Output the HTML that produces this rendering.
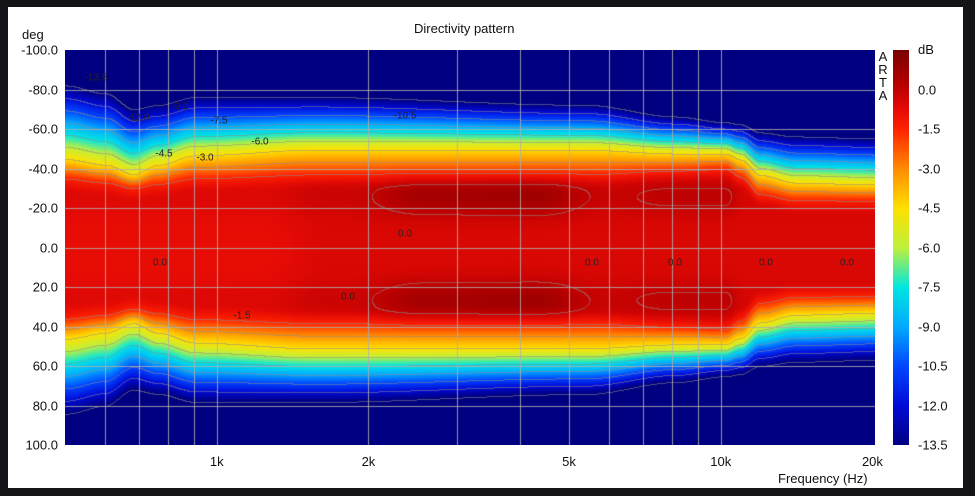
<!DOCTYPE html>
<html><head><meta charset="utf-8"><style>
html,body{margin:0;padding:0;background:#141418;width:975px;height:496px;overflow:hidden;font-family:"Liberation Sans",sans-serif}
#panel{position:absolute;left:8px;top:7px;width:955px;height:481px;background:#fff}
.t{position:absolute;font-size:13px;color:#111;white-space:nowrap}
.yl{position:absolute;right:917px;font-size:13px;color:#111;transform:translateY(-50%)}
.cl{position:absolute;left:918px;font-size:13px;color:#111;transform:translateY(-50%)}
.xl{position:absolute;top:454px;font-size:13px;color:#111;transform:translateX(-50%)}
.lab{position:absolute;font-size:10px;color:#222;transform:translate(-50%,-50%)}
canvas{position:absolute}
</style></head><body>
<div id="panel"></div>
<canvas id="c" width="810" height="395" style="left:65px;top:50px"></canvas>
<canvas id="cb" width="16" height="395" style="left:893px;top:50px"></canvas>
<div class="t" style="left:414px;top:21px">Directivity pattern</div>
<div class="t" style="left:22px;top:27px">deg</div>
<div class="t" style="left:918px;top:42px">dB</div>
<div class="t" style="left:878px;top:50px;line-height:13px;width:10px;text-align:center">A<br>R<br>T<br>A</div>
<div class="t" style="left:778px;top:471px">Frequency (Hz)</div>
<div id="labs"></div>
<script>
var L=document.getElementById('labs'),h='';
for(var i=0;i<=10;i++){var v=-100+20*i;h+='<div class="yl" style="top:'+(50+39.5*i)+'px">'+v.toFixed(1)+'</div>';}
for(var i=1;i<=10;i++){var v=1.5-1.5*i;h+='<div class="cl" style="top:'+(50+39.5*i)+'px">'+v.toFixed(1)+'</div>';}
var fx=[[1000,'1k'],[2000,'2k'],[5000,'5k'],[10000,'10k'],[20000,'20k']];
function X(f){return 65+504*Math.log10(f/500);}
fx.forEach(function(a){h+='<div class="xl" style="left:'+X(a[0])+'px">'+a[1]+'</div>';});
var cl=[[96,78,'-13.5'],[138,118,'-12.0'],[180,107,'-9.0'],[219,121,'-7.5'],[260,142,'-6.0'],[164,154,'-4.5'],[205,158,'-3.0'],[405,116,'-10.5'],[405,234,'0.0'],[160,263,'0.0'],[348,297,'0.0'],[242,316,'-1.5'],[592,263,'0.0'],[675,263,'0.0'],[766,263,'0.0'],[847,263,'0.0']];
cl.forEach(function(a){h+='<div class="lab" style="left:'+a[0]+'px;top:'+a[1]+'px">'+a[2]+'</div>';});
L.innerHTML=h;
var st=[[1.5,[120,0,0]],[0.2,[185,0,0]],[-0.7,[228,10,5]],[-1.5,[255,35,0]],[-3,[255,140,0]],[-4.5,[255,225,0]],[-6,[190,240,60]],[-7.5,[0,230,225]],[-9,[0,170,255]],[-10.5,[0,70,255]],[-12,[0,10,215]],[-13.5,[0,0,128]]];
function col(d){if(d>=st[0][0])return st[0][1];if(d<=-13.5)return st[st.length-1][1];
for(var i=0;i<st.length-1;i++){var a=st[i],b=st[i+1];if(d<=a[0]&&d>=b[0]){var t=(a[0]-d)/(a[0]-b[0]);return [a[1][0]+(b[1][0]-a[1][0])*t,a[1][1]+(b[1][1]-a[1][1])*t,a[1][2]+(b[1][2]-a[1][2])*t];}}return [0,0,128];}
function interp(pts,x){if(x<=pts[0][0])return pts[0][1];for(var i=0;i<pts.length-1;i++){if(x<=pts[i+1][0]){var t=(x-pts[i][0])/(pts[i+1][0]-pts[i][0]);t=t*t*(3-2*t);return pts[i][1]+(pts[i+1][1]-pts[i][1])*t;}}return pts[pts.length-1][1];}
var T=[[0,35,45,82],[40,33,42,78],[68,30,37,70],[92,32,42,72],[130,35,47,76],[250,37,50,76],[520,37,50,72],[610,39,48,66],[660,40,48,63],[675,36,45,62],[695,27,37,58],[730,24,33,56],[810,24,32,55]];
function col_i(i){return T.map(function(r){return [r[0],r[i]];});}
var Rp=col_i(1),Yp=col_i(2),Np=col_i(3);
var Ap=[[0,0.2],[280,0.3],[360,1.1],[470,1.2],[540,0.4],[600,0.6],[660,0.6],[680,0.1],[810,0.1]];
var Cp=[[0,-0.8],[200,-0.8],[260,-0.5],[810,-0.5]];
var c=document.getElementById('c').getContext('2d'),im=c.createImageData(810,395),D=im.data;
function prof(d,C,R,Y,N){
 var pts=[[0,C],[R-6,C],[R,-1.5],[Y,-4.5],[N,-13.5],[N+20,-16]];
 for(var i=0;i<pts.length-1;i++){if(d<=pts[i+1][0]){var t=(d-pts[i][0])/(pts[i+1][0]-pts[i][0]);return pts[i][1]+(pts[i+1][1]-pts[i][1])*t;}}return -16;}
var V=new Float32Array(810*395);
for(var x=0;x<810;x++){var R=interp(Rp,x),Y=interp(Yp,x),N=interp(Np,x),A=interp(Ap,x),C=interp(Cp,x);
 for(var y=0;y<395;y++){var th=-100+200*y/395;var d=Math.abs(th)*(th>0?0.98:1);
  V[y*810+x]=prof(d,C,R,Y,N)+A*Math.exp(-Math.pow((d-26)/10,2));}}
var V2=new Float32Array(V.length);
for(var y=0;y<395;y++)for(var x=0;x<810;x++){var s=0,n=0;for(var k=-3;k<=3;k++){var yy=y+k;if(yy<0||yy>=395)continue;s+=V[yy*810+x];n++;}V2[y*810+x]=s/n;}
V=V2;
function lv(v){return v<-13.5?-10:Math.floor(v/1.5);}
for(var y=0;y<395;y++){for(var x=0;x<810;x++){var v=V[y*810+x];var k=col(v);
var l=lv(v),line=false;
if(y>0&&lv(V[(y-1)*810+x])!=l)line=true;
if(x>0&&lv(V[y*810+x-1])!=l)line=true;
if(line){var a=0.55;k=[k[0]*(1-a)+140*a,k[1]*(1-a)+140*a,k[2]*(1-a)+140*a];}
var o=(y*810+x)*4;D[o]=k[0];D[o+1]=k[1];D[o+2]=k[2];D[o+3]=255;}}
c.putImageData(im,0,0);
c.strokeStyle='rgba(175,175,175,0.85)';c.lineWidth=1;
[600,700,800,900,1000,2000,3000,4000,5000,6000,7000,8000,9000,10000].forEach(function(f){var x=Math.round(X(f)-65)+0.5;c.beginPath();c.moveTo(x,0);c.lineTo(x,395);c.stroke();});
for(var i=1;i<10;i++){var y=Math.round(39.5*i)+0.5;c.beginPath();c.moveTo(0,y);c.lineTo(810,y);c.stroke();}
var b=document.getElementById('cb').getContext('2d'),bi=b.createImageData(16,395);
for(var y=0;y<395;y++){var k=col(1.5-15*y/395);for(var x=0;x<16;x++){var o=(y*16+x)*4;bi.data[o]=k[0];bi.data[o+1]=k[1];bi.data[o+2]=k[2];bi.data[o+3]=255;}}
b.putImageData(bi,0,0);
</script>
</body></html>
